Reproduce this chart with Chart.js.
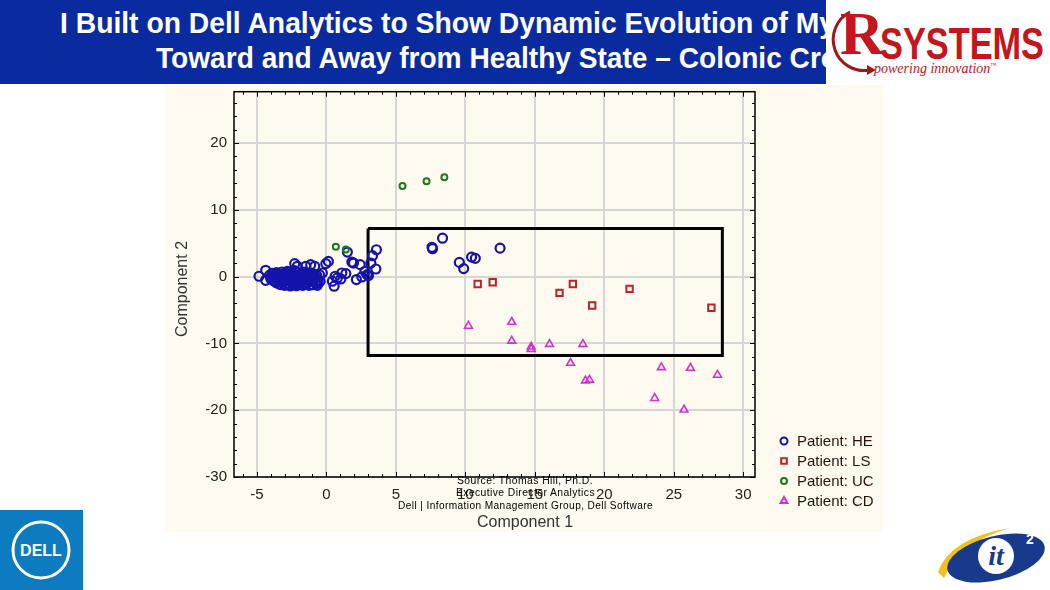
<!DOCTYPE html>
<html><head><meta charset="utf-8">
<script src="https://cdn.jsdelivr.net/npm/chart.js@4.4.1/dist/chart.umd.min.js"></script>
<style>
html,body{margin:0;padding:0;width:1050px;height:590px;overflow:hidden;background:#fff;font-family:"Liberation Sans",Arial,sans-serif;}
#titlebar{position:absolute;left:0;top:0;width:826px;height:84px;background:#0a2b9f;overflow:hidden;}
.tl{position:absolute;color:#fff;font-family:"Liberation Sans Narrow","Liberation Sans",Arial,sans-serif;font-weight:bold;font-size:30px;white-space:nowrap;transform-origin:0 0;line-height:30px;display:inline-block;}
#rlogo{position:absolute;left:826px;top:0;width:224px;height:85px;background:#fff;overflow:hidden;}
#panel{position:absolute;left:165px;top:85px;width:718px;height:447px;background:#fffaf0;}
#c{position:absolute;left:0;top:0;}
.src{position:absolute;font-family:"Liberation Sans",Arial,sans-serif;font-size:10px;line-height:12px;color:#000;white-space:nowrap;transform-origin:0 0;display:inline-block;letter-spacing:0.4px;}
#dell{position:absolute;left:0;top:510px;width:83px;height:80px;background:#0c7bc0;}
</style></head>
<body>
<div id="titlebar">
  <span class="tl" id="t1" style="left:60px;top:8px;">I Built on Dell Analytics to Show Dynamic Evolution of My</span>
  <span class="tl" id="t2" style="left:156px;top:43px;">Toward and Away from Healthy State – Colonic Cro</span>
</div>
<div id="rlogo">
  <svg width="224" height="85" style="position:absolute;left:0;top:0">
    <path d="M24 12 A31 31 0 0 0 44 70" fill="none" stroke="#a3141b" stroke-width="3"/>
    <path d="M41 65 L50 70 L41 75 Z" fill="#a3141b"/>
  </svg>
  <span id="rr" style="position:absolute;left:14px;top:2px;font:bold 62px 'Liberation Serif',serif;color:#c4161c;line-height:62px;display:inline-block;transform-origin:0 0;">R</span>
  <span id="sys" style="position:absolute;left:54px;top:22px;font:bold 44px 'Liberation Sans Narrow','Liberation Sans',sans-serif;color:#c4161c;line-height:44px;display:inline-block;transform-origin:0 0;">SYSTEMS</span>
  <span style="position:absolute;left:48px;top:58px;font:italic 14px 'Liberation Serif',serif;color:#c4161c;line-height:14px;">powering innovation<sup style="font-size:6px">™</sup></span>
</div>
<div id="panel"><canvas id="c" width="718" height="447"></canvas></div>
<span class="src" id="s1">Source: Thomas Hill, Ph.D.</span>
<span class="src" id="s2">Executive Director Analytics</span>
<span class="src" id="s3">Dell | Information Management Group, Dell Software</span>
<div id="dell">
  <svg width="83" height="80"><circle cx="41" cy="40" r="28" fill="none" stroke="#fff" stroke-width="3"/>
  <text x="41" y="46" text-anchor="middle" fill="#fff" font-family="Liberation Sans" font-weight="bold" font-size="16">DELL</text></svg>
</div>
<svg style="position:absolute;left:930px;top:520px" width="120" height="70">
  <path d="M8 52 Q20 18 80 8 Q30 22 14 58 Z" fill="#f2c21b"/>
  <ellipse cx="66" cy="38" rx="50" ry="22" transform="rotate(-14 66 38)" fill="#173a8c"/>
  <circle cx="66" cy="36" r="18" fill="#fff"/>
  <text x="66" y="45" text-anchor="middle" fill="#173a8c" font-family="Liberation Serif" font-style="italic" font-weight="bold" font-size="28">it</text>
  <text x="96" y="24" fill="#fff" font-family="Liberation Sans" font-weight="bold" font-size="14">2</text>
</svg>
<script>
// ---- data ----
const seriesLabels = ['Patient: HE','Patient: LS','Patient: UC','Patient: CD'];
const xAxisTitle = 'Component 1';
const yAxisTitle = 'Component 2';
const xTickValues = [-5,0,5,10,15,20,25,30];
const yTickValues = [-30,-20,-10,0,10,20];
const heData = [
 [-4.85,0.06],[-4.37,0.95],[-4.37,-0.54],
 [-4.1,0.2],[-4.0,-0.3],[-3.9,0.5],[-3.8,-0.6],[-3.7,0.1],[-3.6,-0.9],[-3.6,0.6],[-3.5,-0.2],[-3.4,0.3],[-3.4,-1.1],
 [-3.3,-0.5],[-3.2,0.7],[-3.2,0.0],[-3.1,-0.8],[-3.0,0.4],[-3.0,-1.3],[-2.9,-0.3],[-2.8,0.8],[-2.8,-1.0],[-2.7,0.2],
 [-2.6,-0.6],[-2.6,-1.4],[-2.5,0.5],[-2.5,-0.1],[-2.4,-0.9],[-2.3,0.9],[-2.3,-1.2],[-2.2,0.1],[-2.1,-0.5],[-2.0,0.6],
 [-2.0,-1.1],[-1.9,-0.2],[-1.8,0.3],[-1.8,-0.8],[-1.7,-1.3],[-1.6,0.7],[-1.5,-0.4],[-1.5,0.1],[-1.4,-1.0],[-1.3,0.4],
 [-1.2,-0.6],[-1.1,0.0],[-1.0,-1.2],[-1.0,0.5],[-0.9,-0.3],[-0.8,-0.9],[-0.7,0.2],[-0.6,-0.5],[-0.5,0.3],[-0.6,-1.0],
 [-3.85,-0.1],[-3.55,0.35],[-3.45,-0.7],[-3.25,-1.2],[-3.05,-0.2],[-2.95,0.6],[-2.75,-0.4],[-2.65,-1.2],[-2.45,0.25],
 [-2.35,-0.55],[-2.15,-1.35],[-2.05,0.0],[-1.95,-0.75],[-1.75,0.45],[-1.65,-0.35],[-1.55,-1.1],[-1.35,-0.2],[-1.25,-1.3],
 [-1.15,0.25],[-0.95,-0.65],[-0.75,-0.1],[-0.65,-1.3],[-0.45,-0.7],[-3.15,0.25],[-2.55,-0.85],[-1.85,-1.0],[-1.45,0.5],
 [-2.28,1.95],[-2.09,1.55],[-1.49,1.55],[-1.13,1.8],[-0.84,1.55],[-0.29,0.55],[-0.04,1.95],[0.14,2.29],
 [0.43,-0.68],[0.56,-1.43],[0.79,-0.19],[1.11,0.55],[1.04,-0.34],[1.40,0.46],[0.63,0.06],
 [1.51,3.68],[1.83,2.19],[1.95,2.04],[2.16,-0.43],[2.43,1.8],[2.55,-0.04],[2.77,0.8],[2.93,0.31],[3.03,0.16],
 [3.2,2.04],[3.32,3.14],[3.56,1.15],[3.6,4.03],
 [7.64,4.18],[7.6,4.4],[8.36,5.76],[9.57,2.14],[9.88,1.21],[10.45,2.93],[10.72,2.74],[12.5,4.27]
];
const lsData = [[10.89,-1.09],[11.97,-0.83],[16.78,-2.42],[17.74,-1.09],[19.13,-4.31],[21.82,-1.83],[27.71,-4.66]];
const ucData = [[5.48,13.56],[7.21,14.3],[8.49,14.9],[0.68,4.48],[1.40,4.08]];
const cdData = [[10.22,-7.38],[13.34,-6.79],[13.34,-9.61],[14.74,-10.5],[14.74,-10.85],[16.06,-10.1],[18.46,-10.1],
 [17.57,-12.93],[18.65,-15.57],[18.94,-15.46],[24.11,-13.58],[26.2,-13.68],[28.15,-14.72],[23.63,-18.2],[25.74,-19.93]];
const boxX = [3, 28.5, 28.5, 3, 3];
const boxY = [7.2, 7.2, -11.8, -11.8, 7.2];

// ---- text fitting ----
function fit(id, w){const el=document.getElementById(id);const r=el.getBoundingClientRect().width;el.style.transform='scaleX('+(w/r)+')';}
fit('t1',775); fit('t2',682); fit('sys',164); fit('rr',44);
function placeSrc(id,w,cy){const el=document.getElementById(id);const r=el.getBoundingClientRect().width;
 el.style.transform='scaleX('+(w/r)+')';el.style.left=(525-w/2)+'px';el.style.top=(cy-6)+'px';}
placeSrc('s1',136,481); placeSrc('s2',139,493); placeSrc('s3',255,506);

const pts = a => a.map(p=>({x:p[0],y:p[1]}));
const colors = {he:'#1414aa', ls:'#c0202c', uc:'#1b7a1b', cd:'#d033cf'};

const legendRadius=[3.5,4,3,4];
const customLegend={id:'customLegend',afterDraw(chart){
 const ctx=chart.ctx; ctx.save();
 for(let i=0;i<4;i++){
   const ds=chart.data.datasets[i]; const y=356+i*20;
   ctx.strokeStyle=ds.borderColor; ctx.fillStyle='rgba(0,0,0,0)'; ctx.lineWidth=2;
   Chart.helpers.drawPoint(ctx,{pointStyle:ds.pointStyle,radius:legendRadius[i],borderWidth:2,rotation:0},619,y);
   ctx.fillStyle='#2a1408'; ctx.font='15px "Liberation Sans", Arial, sans-serif'; ctx.textBaseline='middle'; ctx.textAlign='left';
   ctx.fillText(ds.label,632,y+1);
 }
 ctx.fillStyle='#333'; ctx.font='16px "Liberation Sans", Arial, sans-serif'; ctx.textAlign='center'; ctx.textBaseline='middle';
 ctx.fillText(xAxisTitle,360,438);
 ctx.translate(18,204); ctx.rotate(-Math.PI/2); ctx.fillText(yAxisTitle,0,0);
 ctx.restore();
}};
const frame={id:'frame',afterDatasetsDraw(chart){
 const {ctx,chartArea:a,scales}=chart; ctx.save();
 ctx.strokeStyle='#000'; ctx.lineWidth=1;
 ctx.beginPath();
 for(let v=-6;v<=30;v++){const x=Math.round(scales.x.getPixelForValue(v))+0.5;const L=(v%5===0)?5:3;
   ctx.moveTo(x,a.bottom);ctx.lineTo(x,a.bottom-L);ctx.moveTo(x,a.top);ctx.lineTo(x,a.top+L);}
 for(let v=-30;v<=26;v+=2){const y=Math.round(scales.y.getPixelForValue(v))+0.5;const L=(v%10===0)?5:3;
   ctx.moveTo(a.left,y);ctx.lineTo(a.left+L,y);ctx.moveTo(a.right,y);ctx.lineTo(a.right-L,y);}
 ctx.stroke();
 ctx.lineWidth=1.5; ctx.strokeRect(a.left,a.top,a.right-a.left,a.bottom-a.top);
 ctx.restore();
}};
const tickFont={family:'"Liberation Sans", Arial, sans-serif',size:15};
new Chart(document.getElementById('c'),{
 type:'scatter',
 data:{datasets:[
  {label:seriesLabels[0],data:pts(heData),pointStyle:'circle',pointRadius:4.5,borderWidth:2.2,borderColor:colors.he,backgroundColor:'rgba(0,0,0,0)',order:4},
  {label:seriesLabels[1],data:pts(lsData),pointStyle:'rect',pointRadius:4.5,borderWidth:2,borderColor:colors.ls,backgroundColor:'rgba(0,0,0,0)',order:3},
  {label:seriesLabels[2],data:pts(ucData),pointStyle:'circle',pointRadius:3,borderWidth:2,borderColor:colors.uc,backgroundColor:'rgba(0,0,0,0)',order:1},
  {label:seriesLabels[3],data:pts(cdData),pointStyle:'triangle',pointRadius:4.5,borderWidth:1.6,borderColor:colors.cd,backgroundColor:'rgba(0,0,0,0)',order:2},
  {label:'box',data:boxX.map((x,i)=>({x,y:boxY[i]})),showLine:true,borderColor:'#000',borderWidth:3,pointRadius:0,fill:false,order:5,borderJoinStyle:'miter'}
 ]},
 options:{responsive:false,animation:false,
  layout:{padding:{top:1,right:128,left:0,bottom:0}},
  plugins:{legend:{display:false},tooltip:{enabled:false}},
  scales:{
   x:{type:'linear',min:-6.65,max:30.85,
      afterBuildTicks:s=>{s.ticks=xTickValues.map(v=>({value:v}));},
      afterFit:s=>{s.height=55;s.paddingLeft=0;s.paddingRight=0;},
      grid:{color:'#d6d6d6',lineWidth:2,drawTicks:false},border:{display:false},
      ticks:{color:'#2b2016',font:tickFont,padding:9,maxRotation:0},
      title:{display:false}},
   y:{type:'linear',min:-30,max:27.7,
      afterBuildTicks:s=>{s.ticks=yTickValues.map(v=>({value:v}));},
      afterFit:s=>{s.width=69;s.paddingTop=0;s.paddingBottom=0;},
      grid:{color:'#d6d6d6',lineWidth:2,drawTicks:false},border:{display:false},
      ticks:{color:'#2b2016',font:tickFont,padding:7},
      title:{display:false}}
  }},
 plugins:[frame,customLegend]
});
</script>
</body></html>
